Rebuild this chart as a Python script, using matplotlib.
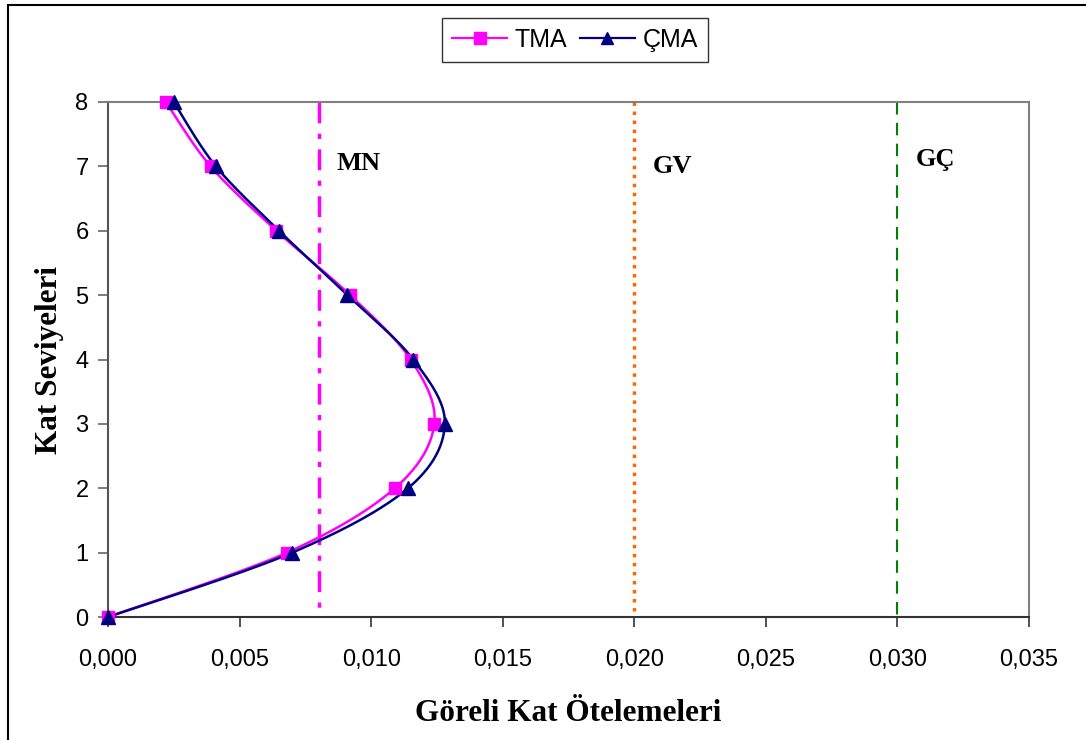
import numpy as np
import matplotlib.pyplot as plt
from matplotlib.patches import Rectangle
from matplotlib.ticker import FuncFormatter

# story levels and relative storey drifts
levels = [0, 1, 2, 3, 4, 5, 6, 7, 8]
tma = [0.0, 0.0068, 0.0109, 0.0124, 0.0115, 0.0092, 0.0064, 0.0039, 0.0022]
cma = [0.0, 0.0070, 0.0114, 0.0128, 0.0116, 0.0091, 0.0065, 0.0041, 0.0025]

# performance limits
limit_names = ["MN", "GV", "GÇ"]
limit_values = [0.008, 0.020, 0.030]


# Excel-like smoothed line through the points (cubic bezier, catmull-rom tangents)
def smooth(xs, ys, sx, sy, n=30):
    px = np.array(xs) / sx
    py = np.array(ys) / sy
    out_x, out_y = [], []
    m = len(px)
    for i in range(m - 1):
        p0 = np.array([px[max(i - 1, 0)], py[max(i - 1, 0)]])
        p1 = np.array([px[i], py[i]])
        p2 = np.array([px[i + 1], py[i + 1]])
        p3 = np.array([px[min(i + 2, m - 1)], py[min(i + 2, m - 1)]])
        c1 = p1 + (p2 - p0) / 6
        c2 = p2 - (p3 - p1) / 6
        t = np.linspace(0, 1, n)[:, None]
        b = (1 - t)**3 * p1 + 3 * (1 - t)**2 * t * c1 + 3 * (1 - t) * t**2 * c2 + t**3 * p2
        out_x.extend(b[:, 0])
        out_y.extend(b[:, 1])
    return np.array(out_x) * sx, np.array(out_y) * sy


fig = plt.figure(figsize=(10.86, 7.4), dpi=100)
ax = fig.add_axes([108 / 1086, 1 - 617 / 740, (1029 - 108) / 1086, (617 - 102) / 740])

# outer chart border (right and bottom edges fall outside the picture)
fig.patches.append(Rectangle((8 / 1086, -0.02), 1.05, 1 - 5 / 740 + 0.02, transform=fig.transFigure,
                             fill=False, edgecolor="black", linewidth=1.5))

# scale for smoothing: roughly pixels per unit
sx = 0.035 / 921
sy = 8 / 515

x1, y1 = smooth(tma, levels, sx, sy)
x2, y2 = smooth(cma, levels, sx, sy)
ax.plot(x1, y1, color="#FF00FF", linewidth=1.8, zorder=3)
ax.plot(x2, y2, color="#000080", linewidth=1.8, zorder=4)
ax.plot(tma, levels, linestyle="none", marker="s", markersize=8,
        color="#FF00FF", zorder=5, clip_on=False)
ax.plot(cma, levels, linestyle="none", marker="^", markersize=10,
        color="#000080", zorder=6, clip_on=False)

# legend proxies
ax.plot([], [], color="#FF00FF", marker="s", markersize=8, linewidth=1.6, label="TMA")
ax.plot([], [], color="#000080", marker="^", markersize=9, linewidth=1.6, label="ÇMA")

# limit lines drawn top to bottom so the pattern starts at the top
ax.plot([limit_values[0]] * 2, [8, 0], color="#FF00FF", linewidth=2.5,
        linestyle=(0, (6, 3, 1.5, 3)), zorder=2)
ax.plot([limit_values[1]] * 2, [8, 0], color="#FF6600", linewidth=2.5,
        linestyle=(0, (1, 1.6)), zorder=2)
ax.plot([limit_values[2]] * 2, [8, 0], color="#008000", linewidth=1.5,
        linestyle=(0, (6, 4)), zorder=2)

label_y = [7.05, 7.0, 7.1]
for name, xv, yv in zip(limit_names, limit_values, label_y):
    ax.text(xv + 0.0007, yv, name, fontsize=19, fontweight="bold",
            family="Liberation Serif", ha="left", va="center")

ax.set_xlim(0, 0.035)
ax.set_ylim(0, 8)
ax.set_xticks(np.arange(0, 0.0351, 0.005))
ax.set_yticks(levels)
ax.xaxis.set_major_formatter(FuncFormatter(lambda v, p: f"{v:.3f}".replace(".", ",")))
for lab in ax.get_xticklabels() + ax.get_yticklabels():
    lab.set_fontsize(17)
    lab.set_family("Liberation Sans")
ax.tick_params(axis="x", direction="out", length=7, width=1.2, color="#333333", pad=16)
ax.tick_params(axis="y", direction="out", length=7, width=1.2, color="#666666", pad=7)

for s in ["top", "right"]:
    ax.spines[s].set_color("#808080")
    ax.spines[s].set_linewidth(1.5)
ax.spines["left"].set_color("#555555")
ax.spines["bottom"].set_color("#333333")
for s in ["left", "bottom"]:
    ax.spines[s].set_linewidth(1.5)

ax.set_xlabel("Göreli Kat Ötelemeleri", fontsize=22.5, fontweight="bold",
              family="Liberation Serif", labelpad=20)
ax.set_ylabel("Kat Seviyeleri", fontsize=22.5, fontweight="bold",
              family="Liberation Serif", labelpad=8)

leg = ax.legend(loc="center", bbox_to_anchor=(575 / 1086, 1 - 40 / 740),
                bbox_transform=fig.transFigure, ncol=2, frameon=True, fancybox=False,
                prop={"family": "Liberation Sans", "size": 18}, handlelength=2.2,
                handletextpad=0.3, columnspacing=0.5, borderpad=0.4)
leg.get_frame().set_edgecolor("black")
leg.get_frame().set_linewidth(1.0)

fig.savefig("out.png", dpi=100)
